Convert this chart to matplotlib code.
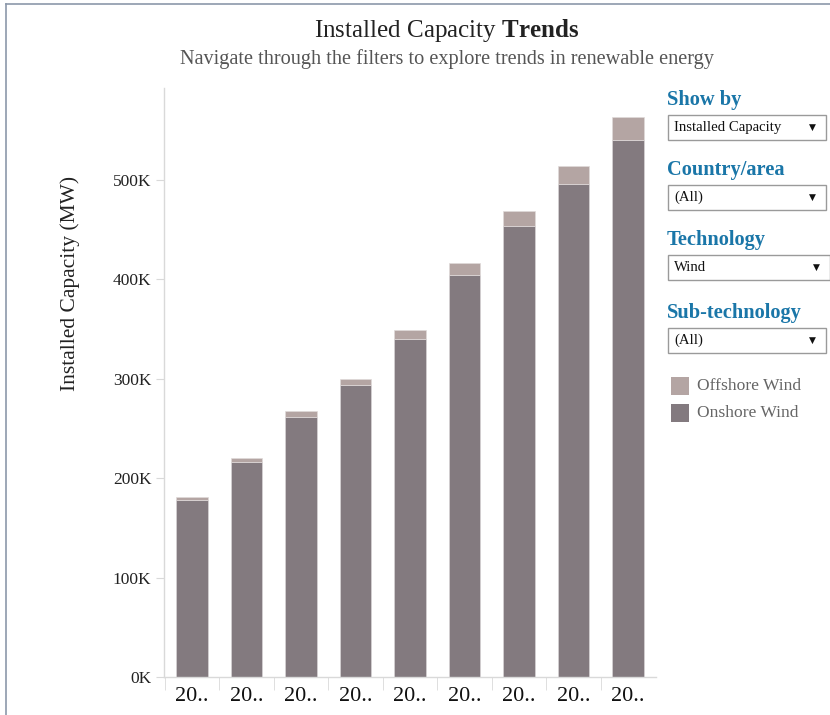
import matplotlib
matplotlib.use("Agg")
import matplotlib.pyplot as plt
from matplotlib.patches import Rectangle
from matplotlib.lines import Line2D
import numpy as np

years = [2010, 2011, 2012, 2013, 2014, 2015, 2016, 2017, 2018]
onshore = [178000, 216000, 261000, 293000, 340000, 404000, 453000, 496000, 540000]
offshore = [3000, 4000, 6000, 7000, 9000, 12000, 15000, 18000, 23000]
y_ticks = [0, 100000, 200000, 300000, 400000, 500000]
y_tick_labels = ["0K", "100K", "200K", "300K", "400K", "500K"]

filters = [("Show by", "Installed Capacity"),
           ("Country/area", "(All)"),
           ("Technology", "Wind"),
           ("Sub-technology", "(All)")]
legend_items = [("Offshore Wind", "#b4a5a3"), ("Onshore Wind", "#837a7f")]

ON_COLOR = "#837a7f"
OFF_COLOR = "#b4a5a3"
AXIS_GRAY = "#d9d9d9"
HEAD_BLUE = "#1a76a8"
SERIF = ["Liberation Serif", "DejaVu Serif"]

plt.rcParams["font.family"] = SERIF
plt.rcParams["mathtext.fontset"] = "custom"
plt.rcParams["mathtext.rm"] = "Liberation Serif"
plt.rcParams["mathtext.bf"] = "Liberation Serif:bold"

W, H = 830, 715
fig = plt.figure(figsize=(W / 100, H / 100), dpi=100)

def fx(px):
    return px / W

def fy(py):
    return 1 - py / H

# dashboard frame (left and top edges)
fig.add_artist(Line2D([fx(6), fx(6)], [fy(4), 0], transform=fig.transFigure,
                      color="#8c98aa", linewidth=1.2))
fig.add_artist(Line2D([fx(6), 1], [fy(4), fy(4)], transform=fig.transFigure,
                      color="#8c98aa", linewidth=1.2))

ax = fig.add_axes([fx(164), fy(677), fx(656 - 164), (677 - 88) / H])

x = np.arange(len(years))
ax.bar(x, onshore, width=0.57, color=ON_COLOR, edgecolor="#d8d4d6", linewidth=0.5)
ax.bar(x, offshore, width=0.57, bottom=onshore, color=OFF_COLOR,
       edgecolor="#e0dada", linewidth=0.5)

ax.set_xlim(-0.514, 8.514)
ax.set_ylim(0, 592000)

for side in ("top", "right"):
    ax.spines[side].set_visible(False)
for side in ("left", "bottom"):
    ax.spines[side].set_color(AXIS_GRAY)
    ax.spines[side].set_linewidth(1.0)

ax.set_yticks(y_ticks)
ax.set_yticklabels(y_tick_labels, fontsize=12.5, color="#222222")
ax.tick_params(axis="y", length=6, color=AXIS_GRAY, pad=3)

# category labels centred on bars, tick marks on cell boundaries
ax.set_xticks(x)
ax.set_xticklabels([str(yr)[:2] + ".." for yr in years], fontsize=16, color="#111111")
ax.tick_params(axis="x", length=0, pad=7)
ax.set_xticks(np.arange(len(years)) - 0.5, minor=True)
ax.tick_params(axis="x", which="minor", length=9, color=AXIS_GRAY)

fig.text(fx(70), fy(283), "Installed Capacity (MW)", rotation=90, ha="center",
         va="center", fontsize=15.5, color="#222222")

# titles
fig.text(fx(447), fy(31), "Installed Capacity $\\bf{Trends}$",
         ha="center", va="center", fontsize=18, color="#222222")
fig.text(fx(447), fy(59), "Navigate through the filters to explore trends in renewable energy",
         ha="center", va="center", fontsize=14.6, color="#555555")

# filter panel
head_y = [100, 170, 240, 313]
box_w = [158, 158, 162, 158]
for (head, value), hy, bw in zip(filters, head_y, box_w):
    fig.text(fx(667), fy(hy), head, ha="left", va="center", fontsize=14.7,
             fontweight="bold", color=HEAD_BLUE)
    top = hy + 15
    fig.patches.append(Rectangle((fx(668), fy(top + 25)), fx(bw), 25 / H,
                                 transform=fig.transFigure, facecolor="white",
                                 edgecolor="#9a9a9a", linewidth=1.0))
    fig.text(fx(674), fy(top + 12.5), value, ha="left", va="center",
             fontsize=10.6, color="#111111")
    fig.text(fx(668 + bw - 14), fy(top + 12), "\u25bc", ha="center", va="center",
             fontsize=6.5, color="#111111", family=["DejaVu Sans"])

# legend
for i, (label, col) in enumerate(legend_items):
    cy = 386 + i * 27
    fig.patches.append(Rectangle((fx(671), fy(cy + 9)), fx(18), 18 / H,
                                 transform=fig.transFigure, facecolor=col,
                                 edgecolor="none"))
    fig.text(fx(697), fy(cy), label, ha="left", va="center", fontsize=12.6,
             color="#666666")

fig.savefig("out.png", dpi=100)
